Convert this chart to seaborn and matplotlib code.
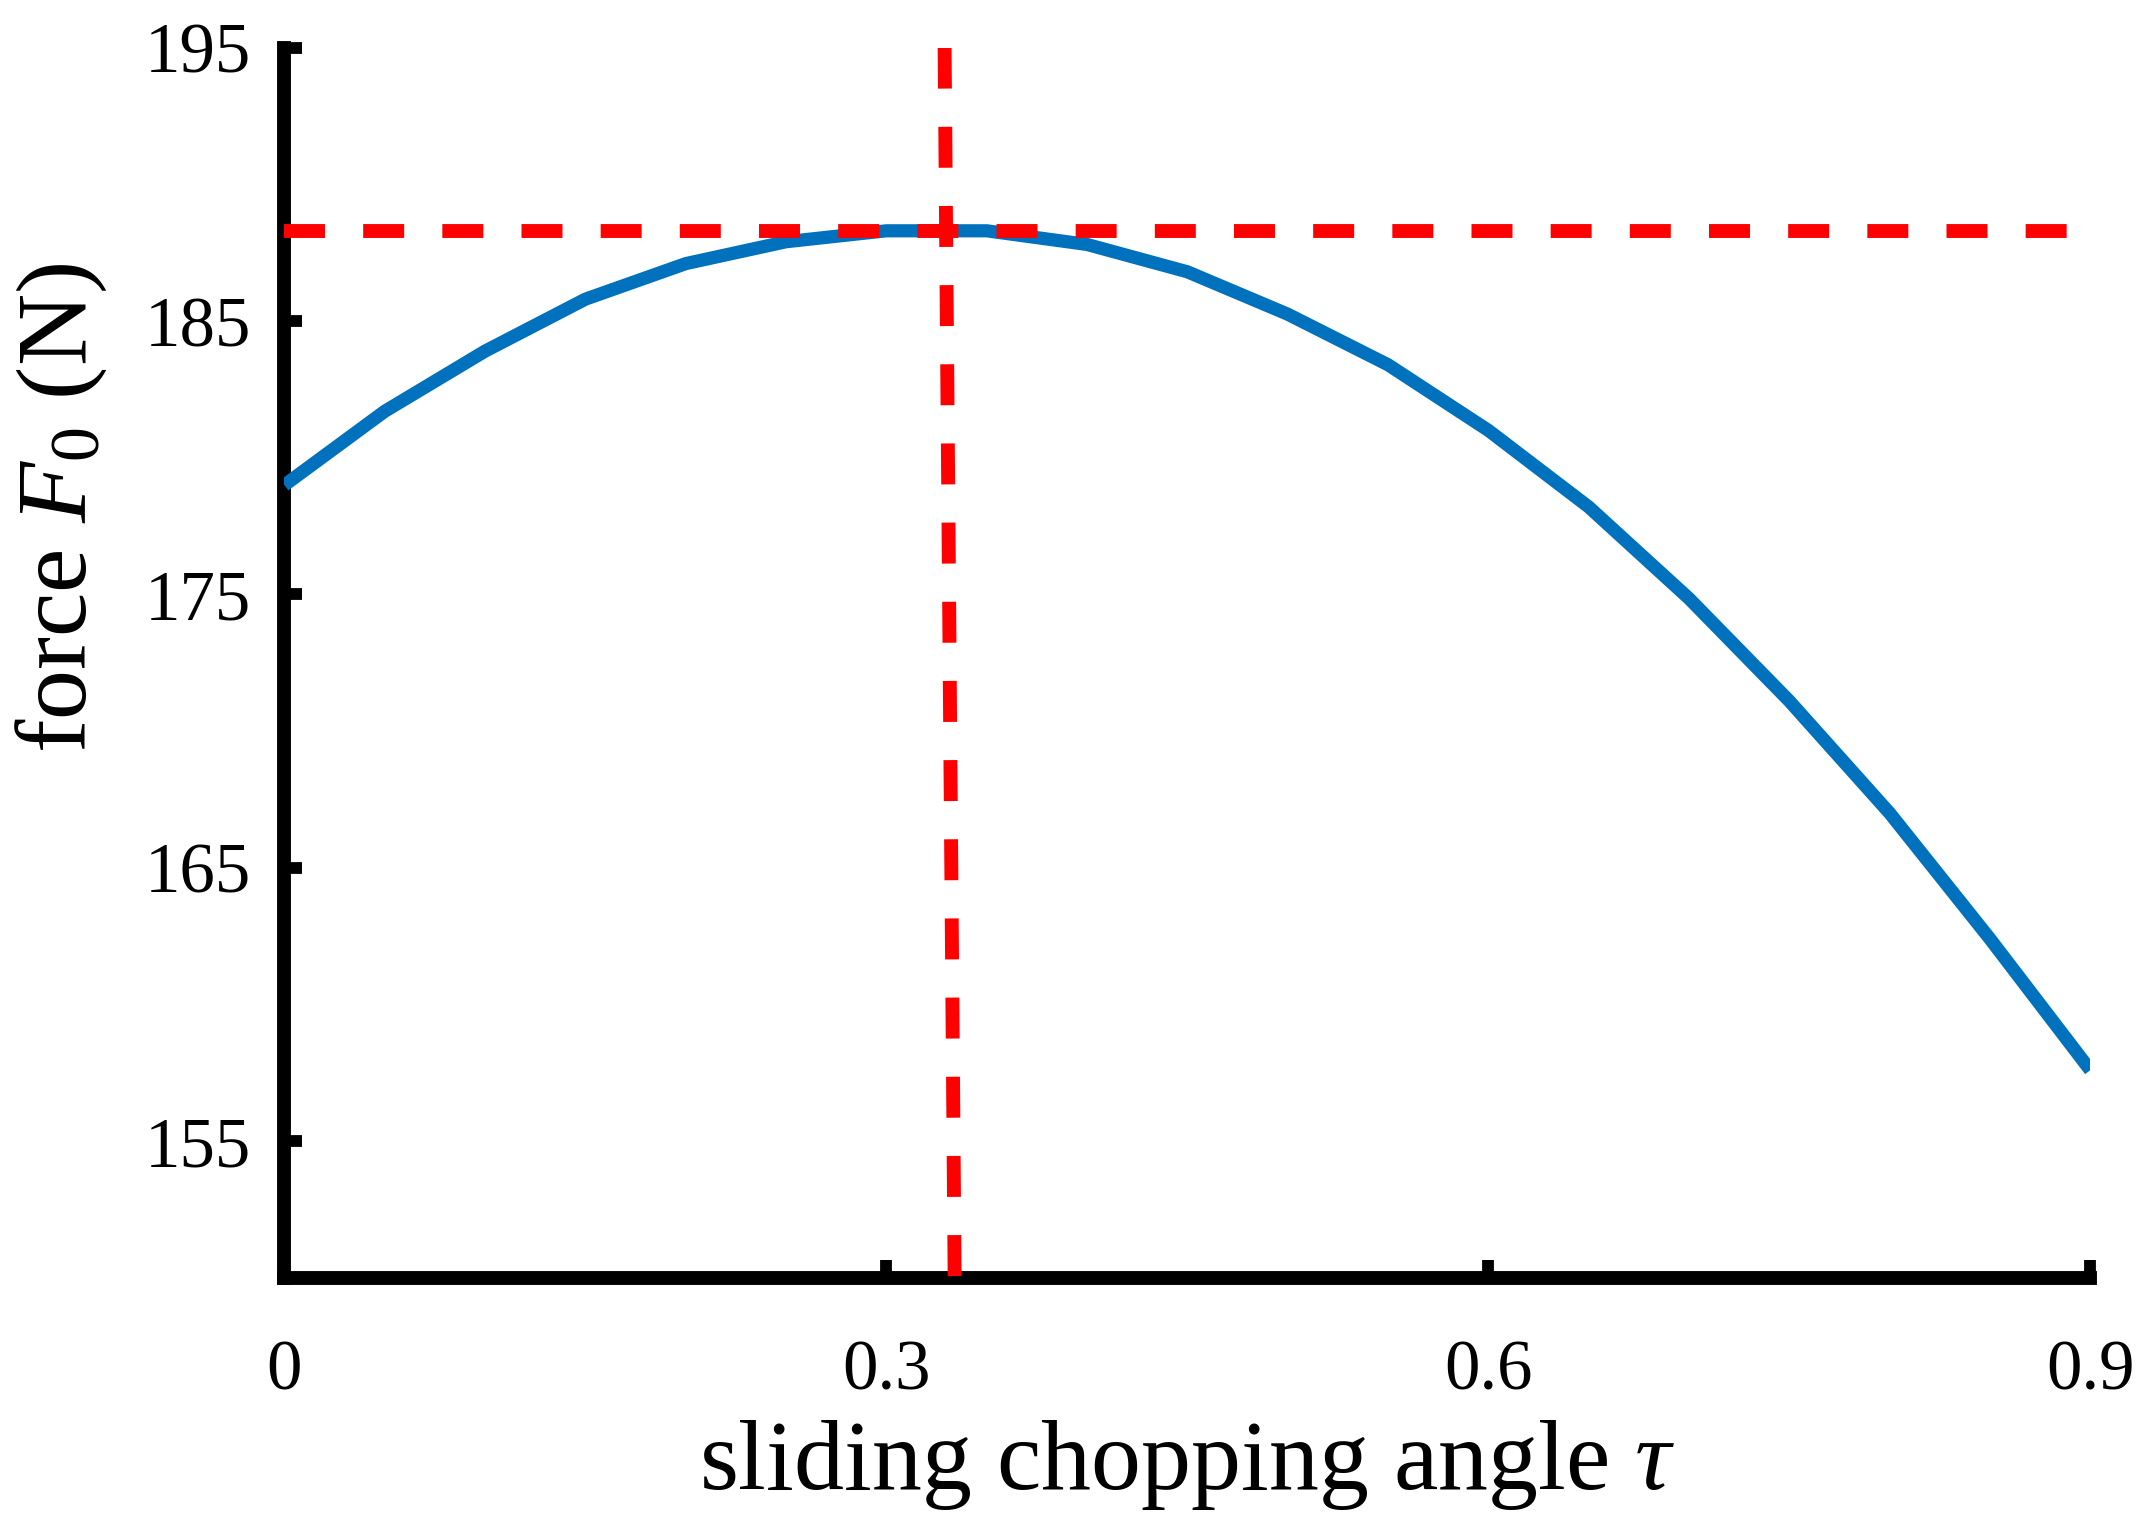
import numpy as np
import pandas as pd
import seaborn as sns
import matplotlib
matplotlib.use("Agg")
import matplotlib.pyplot as plt

# data
tau = [0.0, 0.05, 0.1, 0.15, 0.2, 0.25, 0.3, 0.35, 0.4, 0.45,
       0.5, 0.55, 0.6, 0.65, 0.7, 0.75, 0.8, 0.85, 0.9]
force = [179.0, 181.7, 183.9, 185.8, 187.1, 187.9, 188.3, 188.3, 187.8, 186.8,
         185.25, 183.4, 181.0, 178.2, 174.85, 171.1, 167.0, 162.4, 157.6]
peak_force = 188.3
peak_tau = [0.329, 0.334]   # vertical marker, top / bottom (slightly slanted)
x_ticks = [0, 0.3, 0.6, 0.9]
x_ticklabels = ["0", "0.3", "0.6", "0.9"]
y_ticks = [155, 165, 175, 185, 195]

df = pd.DataFrame({"tau": tau, "force": force})

sns.set_theme(style="ticks")
plt.rcParams["font.family"] = ["Liberation Serif", "DejaVu Serif"]
plt.rcParams["mathtext.fontset"] = "custom"
plt.rcParams["mathtext.rm"] = "Liberation Serif"
plt.rcParams["mathtext.it"] = "Liberation Serif:italic"
plt.rcParams["text.color"] = "black"
plt.rcParams["axes.labelcolor"] = "black"

fig = plt.figure(figsize=(21.55, 15.36), dpi=100)
ax = fig.add_axes([0.132, 0.168, 0.838, 0.801])

sns.lineplot(data=df, x="tau", y="force", ax=ax, color="#0072BD",
             linewidth=9.5, solid_capstyle="butt", zorder=3)

# red dashed guide lines at the maximum
ax.axhline(peak_force, color="#FF0000", linewidth=10,
           linestyle=(0, (2.95, 2.75)), zorder=4)
ax.plot(peak_tau, [195, 150], color="#FF0000", linewidth=10,
        linestyle=(0, (2.95, 2.75)), zorder=4)

ax.set_xlim(0, 0.9)
ax.set_ylim(150, 195)
ax.set_xticks(x_ticks)
ax.set_xticklabels(x_ticklabels)
ax.set_yticks(y_ticks)

for s in ["top", "right"]:
    ax.spines[s].set_visible(False)
for s in ["left", "bottom"]:
    ax.spines[s].set_linewidth(10)
    ax.spines[s].set_color("black")

ax.tick_params(axis="both", direction="in", length=13, width=8.5,
               color="black", labelsize=51, labelcolor="black")
ax.tick_params(axis="y", pad=24)
ax.tick_params(axis="x", pad=44)

ax.set_xlabel(r"sliding chopping angle $\it{\tau}$", fontsize=72, labelpad=10)
ax.set_ylabel(r"force $F_0$ (N)", fontsize=72)
ax.yaxis.set_label_coords(-0.097, 0.626)

fig.savefig("out.png", dpi=100, facecolor="white")
